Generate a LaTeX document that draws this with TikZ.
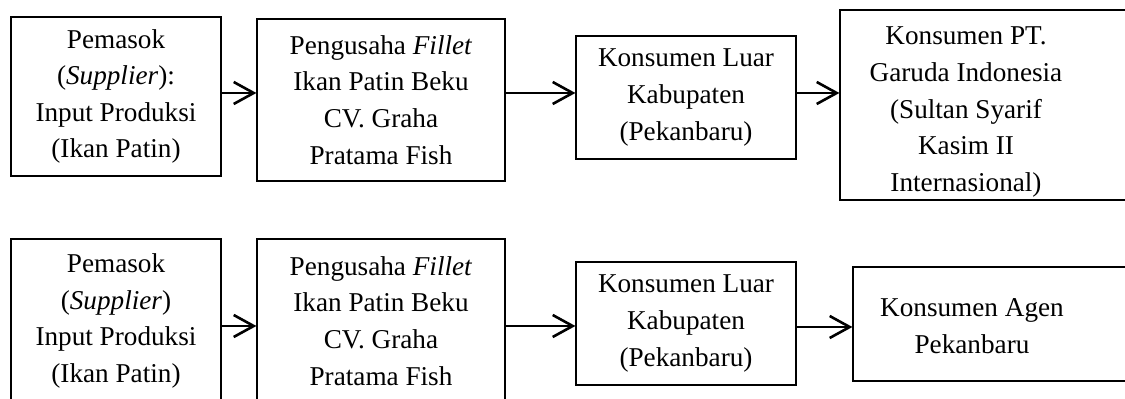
\documentclass[tikz,border=0pt]{standalone}
\usepackage{fontspec}
\setmainfont{Liberation Serif}
\usetikzlibrary{arrows.meta}
\tikzset{
  box/.style={draw, line width=0.6pt, rectangle, inner sep=0pt, align=center,
    font=\fontsize{13.6}{18.3}\selectfont},
  txt/.style={inner sep=0pt, align=center, font=\fontsize{13.6}{18.3}\selectfont},
  flow/.style={line width=1.3pt, -{Straight Barb[length=10pt,width=11pt,line width=1.3pt]}}
}
\begin{document}
\begin{tikzpicture}[x=0.5pt,y=-0.5pt]
\useasboundingbox (0,0) rectangle (1125,399);
% row 1
\node[box, minimum width=105pt, minimum height=79.5pt] (a1) at (116,96.5)
  {Pemasok\\(\textit{Supplier}):\\Input Produksi\\(Ikan Patin)};
\node[box, minimum width=124pt, minimum height=81pt] (a2) at (381,100)
  {Pengusaha \textit{Fillet}\\Ikan Patin Beku\\CV. Graha\\Pratama Fish};
\node[box, minimum width=110pt, minimum height=61.5pt] (a3) at (686,97.5)
  {Konsumen Luar\\Kabupaten\\(Pekanbaru)};
\node[box, minimum width=150pt, minimum height=95pt] (a4) at (990,105) {};
\node[txt] (a4t) at (966,112)
  {Konsumen PT.\\Garuda Indonesia\\(Sultan Syarif\\Kasim II\\Internasional)};
\draw[flow] (a1.east |- 0,93) -- (a2.west |- 0,93);
\draw[flow] (a2.east |- 0,93) -- (a3.west |- 0,93);
\draw[flow] (a3.east |- 0,93) -- (a4.west |- 0,93);
% row 2
\node[box, minimum width=105pt, minimum height=82pt] (b1) at (116,321)
  {Pemasok\\(\textit{Supplier})\\Input Produksi\\(Ikan Patin)};
\node[box, minimum width=124pt, minimum height=82pt] (b2) at (381,321)
  {Pengusaha \textit{Fillet}\\Ikan Patin Beku\\CV. Graha\\Pratama Fish};
\node[box, minimum width=110pt, minimum height=61.5pt] (b3) at (686,323.5)
  {Konsumen Luar\\Kabupaten\\(Pekanbaru)};
\node[box, minimum width=145pt, minimum height=57pt] (b4) at (998,324) {};
\node[txt] (b4t) at (972,326) {Konsumen Agen\\Pekanbaru};
\draw[flow] (b1.east |- 0,326) -- (b2.west |- 0,326);
\draw[flow] (b2.east |- 0,326) -- (b3.west |- 0,326);
\draw[flow] (b3.east |- 0,327) -- (b4.west |- 0,327);
\end{tikzpicture}
\end{document}
